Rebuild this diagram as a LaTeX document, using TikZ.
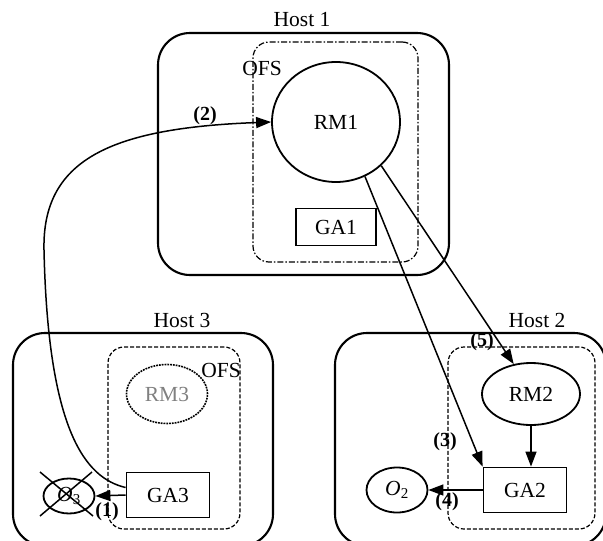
\documentclass[tikz,border=0pt]{standalone}
\usepackage{fontspec}
\setmainfont{Liberation Serif}
\usetikzlibrary{shapes.geometric,arrows.meta}
\begin{document}
\begin{tikzpicture}[
        x=1pt, y=-1pt,
        thick,
        font=\fontsize{21.5}{24}\selectfont
    ]
    \tikzset{
        hostbox/.style = {rectangle, rounded corners=32pt, draw=black, line width=2.1pt, inner sep=0pt},
        ofsbox/.style = {rectangle, rounded corners=16pt, draw=black, line width=1.2pt, inner sep=0pt, dash pattern=on 4pt off 2pt},
        ofsboxb/.style = {ofsbox, dash pattern=on 6pt off 2pt on 1.5pt off 2pt},
        rmnode/.style = {ellipse, draw=black, line width=1.8pt, inner sep=0pt},
        ganode/.style = {rectangle, draw=black, line width=1.8pt, inner sep=0pt, minimum width=83pt, minimum height=45pt},
        objnode/.style = {ellipse, draw=black, line width=1.8pt, inner sep=0pt},
        steplabel/.style = {font=\fontsize{20}{24}\selectfont\bfseries},
        msg/.style = {-{Triangle[length=15pt,width=11pt]}, line width=1.5pt},
    }
    \useasboundingbox (0,0) rectangle (603,541);
    % host 1
    \node[hostbox, minimum width=291pt, minimum height=242pt] at (303.5,154) (h1) {};
    \node at (302,20) (h1l) {Host 1};
    \node[ofsboxb, minimum width=165pt, minimum height=220pt] at (335.5,152) (ofs1) {};
    \node at (262,68) (ofs1l) {OFS};
    \node[rmnode, minimum width=128pt, minimum height=120pt] at (336,122) (rm1) {RM1};
    \node[ganode, minimum width=80pt, minimum height=37pt] at (336,227) (ga1) {GA1};
    % host 3
    \node[hostbox, minimum width=260pt, minimum height=213pt] at (143,439.5) (h3) {};
    \node at (182,320) (h3l) {Host 3};
    \node[ofsbox, minimum width=132pt, minimum height=182pt] at (174,438) (ofs3) {};
    \node at (221,370) (ofs3l) {OFS};
    \node[rmnode, densely dotted, line width=1.6pt, minimum width=81pt, minimum height=59pt, text=gray] at (167,394) (rm3) {RM3};
    \node[ganode] at (168,495) (ga3) {GA3};
    \node[objnode, minimum width=51pt, minimum height=35pt] at (69,496) (o3) {\textit{O}\textsubscript{3}};
    % host 2
    \node[hostbox, minimum width=271pt, minimum height=213pt] at (470.5,439.5) (h2) {};
    \node at (537,320) (h2l) {Host 2};
    \node[ofsbox, minimum width=147pt, minimum height=182pt] at (521.5,438) (ofs2) {};
    \node[rmnode, minimum width=98pt, minimum height=62pt] at (531,394) (rm2) {RM2};
    \node[ganode] at (525,490) (ga2) {GA2};
    \node[objnode, minimum width=61pt, minimum height=45pt] at (397,490) (o2) {\textit{O}\textsubscript{2}};
    %
    \draw[line width=1.5pt] ([shift={(-29,-24)}]o3.center) -- ([shift={(24,20)}]o3.center);
    \draw[line width=1.5pt] ([shift={(23,-24)}]o3.center) -- ([shift={(-29,20)}]o3.center);
    %
    \draw[msg] (ga3.west) -- (o3.east);
    \draw[msg] (ga3.170) .. controls (85,478) and (48,430) .. (44,250) .. controls (42,160) and (110,128) .. (rm1.west);
    \draw[msg] (rm1.-62) -- (ga2.north west);
    \draw[msg] (ga2.west) -- (o2.east);
    \draw[msg] (rm2.south) -- (rm2.south |- ga2.north);
    \draw[msg] (rm1.-44) -- (rm2.120);
    %
    \node[steplabel] at (107,512) (l1) {(1)};
    \node[steplabel] at (205,116) (l2) {(2)};
    \node[steplabel] at (445,442) (l3) {(3)};
    \node[steplabel] at (447,502) (l4) {(4)};
    \node[steplabel] at (482,342) (l5) {(5)};
\end{tikzpicture}
\end{document}
